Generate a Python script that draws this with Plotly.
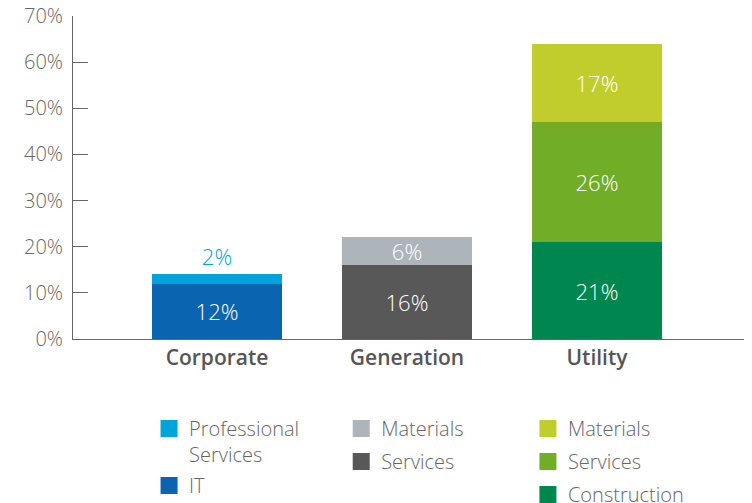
import plotly.graph_objects as go

categories = ["Corporate", "Generation", "Utility"]
tick_vals = [0, 10, 20, 30, 40, 50, 60, 70]
tick_text = ["0%", "10%", "20%", "30%", "40%", "50%", "60%", "70%"]

# values in percent, per category segment
corp_it = 12
corp_prof = 2
gen_services = 16
gen_materials = 6
util_construction = 21
util_services = 26
util_materials = 17

FONT = "Open Sans"
GREY = "#666666"

fig = go.Figure()


def add_bar(cat, name, val, color, legend, rank, outside=False):
    fig.add_trace(go.Bar(
        x=[cat], y=[val], name=name,
        marker=dict(color=color, line=dict(width=0)),
        width=0.684,
        text=[f"{val}%"],
        textposition="outside" if outside else "inside",
        insidetextanchor="middle",
        textangle=0,
        textfont=dict(family=FONT, size=22, color="white", weight=300),
        outsidetextfont=dict(family=FONT, size=22, color=color, weight=300),
        cliponaxis=False, showlegend=False,
        hovertemplate="%{x}: %{y}%<extra>" + name.replace("<br>", " ") + "</extra>",
    ))
    # legend-only entry with a bigger swatch (thick outline in the same colour)
    fig.add_trace(go.Bar(
        x=[cat], y=[None], name=name,
        marker=dict(color=color, line=dict(width=9, color=color)),
        legend=legend, legendrank=rank, legendgroup=f"{cat}-{rank}",
        hoverinfo="skip",
    ))


add_bar("Corporate", "IT", corp_it, "#0B64B0", "legend", 2)
add_bar("Corporate", "Professional<br>Services", corp_prof, "#00A3DA", "legend", 1, outside=True)
add_bar("Generation", "Services", gen_services, "#585858", "legend2", 2)
add_bar("Generation", "Materials", gen_materials, "#ADB5BB", "legend2", 1)
add_bar("Utility", "Construction", util_construction, "#00874F", "legend3", 3)
add_bar("Utility", "Services", util_services, "#72AD27", "legend3", 2)
add_bar("Utility", "Materials", util_materials, "#C1CD2D", "legend3", 1)

legend_style = dict(
    font=dict(family=FONT, size=20, color=GREY, weight=300),
    traceorder="grouped", orientation="v", valign="top",
    xref="paper", yref="container",
    yanchor="top", xanchor="left", bgcolor="rgba(0,0,0,0)",
    itemclick=False, itemdoubleclick=False,
)

fig.update_layout(
    width=752, height=503,
    barmode="stack",
    # the page adds an 8px body margin, so the figure is pulled up/left by 8px
    margin=dict(l=65, r=0, t=8, b=172),
    plot_bgcolor="white", paper_bgcolor="white",
    font=dict(family=FONT, color=GREY),
    uniformtext=dict(mode="show", minsize=22),
    xaxis=dict(
        categoryorder="array", categoryarray=categories,
        range=[-0.758, 2.858], automargin=False,
        showline=True, linecolor=GREY, linewidth=1,
        ticks="", showgrid=False, tickangle=0,
        tickfont=dict(family=FONT, size=21, color="#555555", weight=600),
    ),
    yaxis=dict(
        range=[0, 70], tickmode="array", tickvals=tick_vals, ticktext=tick_text,
        automargin=False, ticklabeloverflow="allow",
        showline=True, linecolor=GREY, linewidth=1,
        ticks="inside", ticklen=15, tickcolor=GREY,
        showgrid=False, zeroline=False, ticklabelstandoff=5,
        tickfont=dict(family=FONT, size=20, color=GREY, weight=300),
    ),
    legend=dict(x=0.1107, y=0.203, tracegroupgap=2, **legend_style),
    legend2=dict(x=0.3904, y=0.203, tracegroupgap=4, **legend_style),
    legend3=dict(x=0.6622, y=0.203, tracegroupgap=4, **legend_style),
)

fig.write_html("out.html")
